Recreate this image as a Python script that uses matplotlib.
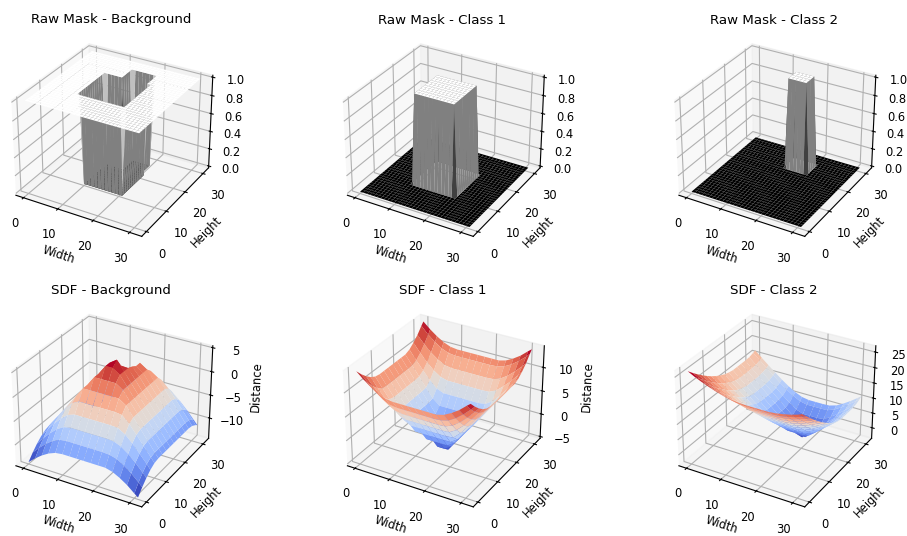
import numpy as np
import matplotlib
matplotlib.use('Agg')
import matplotlib.pyplot as plt

GRID = 32
CLASS1_X = (10, 21)
CLASS1_Y = (10, 21)
CLASS2_X = (15, 20)
CLASS2_Y = (22, 26)

KNOTS = [0, 2, 4, 6, 8, 10, 12, 14, 16, 18, 20, 22, 24, 26, 28, 30, 31]

SDF_BG = [
    [-14.1, -12.8, -11.7, -10.8, -10.2, -10, -10, -10, -10, -10, -10, -10, -10.4, -11.2, -12.2, -13.5, -14.1],
    [-12.8, -11.3, -10, -8.9, -8.2, -8, -8, -8, -8, -8, -8, -8.1, -8.5, -9.4, -10.6, -12, -12.8],
    [-11.7, -10, -8.5, -7.2, -6.3, -6, -6, -6, -6, -6, -6, -6.1, -6.7, -7.8, -9.2, -10.8, -11.7],
    [-10.8, -8.9, -7.2, -5.7, -4.5, -4, -4, -4, -4, -4, -4, -4.1, -5, -6.4, -8.1, -9.8, -10.8],
    [-10.2, -8.2, -6.3, -4.5, -2.8, -2, -2, -2, -2, -2, -2, -2.2, -3.6, -5.4, -7.3, -9.2, -10.2],
    [-10, -8, -6, -4, -2, 0, 0, 0, 0, 0, 0, -1, -3, -5, -7, -9, -10],
    [-10, -8, -6, -4, -2, 0, 2, 2, 2, 2, 1, -1, -3, -5, -7, -9, -10],
    [-10, -8, -6, -4, -2, 0, 2, 4, 4, 3, 1, -1, -3, -5, -7, -9, -10],
    [-10, -8, -6, -4, -2, 0, 2, 4, 5, 3, 1, -1, -3, -5, -7, -9, -10],
    [-10, -8, -6, -4, -2, 0, 2, 3, 3.1, 3, 1, -1, -3, -5, -7, -9, -10],
    [-10, -8, -6, -4, -2, 0, 1, 1, 1.2, 2.6, 1, -1, -3, -5, -7, -9, -10],
    [-10, -8.1, -6.1, -4.1, -2.2, -1, -1, -1, 0, 2, 1, -1, -3, -5, -7, -9, -10],
    [-10.4, -8.5, -6.7, -5, -3.6, -3, -3, -2, 0, 2, 1, -1, -3, -5, -7, -9, -10],
    [-11.2, -9.4, -7.8, -6.4, -5.4, -5, -4, -2, 0, 0, 0, -1, -3, -5, -7, -9, -10],
    [-12.2, -10.6, -9.2, -8.1, -7.3, -6.3, -4.5, -2.8, -2, -2, -2, -2.2, -3.6, -5.4, -7.3, -9.2, -10.2],
    [-13.5, -12, -10.8, -9.8, -8.9, -7.2, -5.7, -4.5, -4, -4, -4, -4.1, -5, -6.4, -8.1, -9.8, -10.8],
    [-14.1, -12.8, -11.7, -10.8, -9.4, -7.8, -6.4, -5.4, -5, -5, -5, -5.1, -5.8, -7.1, -8.6, -10.3, -11.2],
]

SDF_C1 = [
    [14.1, 12.8, 11.7, 10.8, 10.2, 10, 10, 10, 10, 10, 10, 10, 10.4, 11.2, 12.2, 13.5, 14.1],
    [12.8, 11.3, 10, 8.9, 8.2, 8, 8, 8, 8, 8, 8, 8.1, 8.5, 9.4, 10.6, 12, 12.8],
    [11.7, 10, 8.5, 7.2, 6.3, 6, 6, 6, 6, 6, 6, 6.1, 6.7, 7.8, 9.2, 10.8, 11.7],
    [10.8, 8.9, 7.2, 5.7, 4.5, 4, 4, 4, 4, 4, 4, 4.1, 5, 6.4, 8.1, 9.8, 10.8],
    [10.2, 8.2, 6.3, 4.5, 2.8, 2, 2, 2, 2, 2, 2, 2.2, 3.6, 5.4, 7.3, 9.2, 10.2],
    [10, 8, 6, 4, 2, 0, 0, 0, 0, 0, 0, 1, 3, 5, 7, 9, 10],
    [10, 8, 6, 4, 2, 0, -2, -2, -2, -2, -1, 1, 3, 5, 7, 9, 10],
    [10, 8, 6, 4, 2, 0, -2, -4, -4, -3, -1, 1, 3, 5, 7, 9, 10],
    [10, 8, 6, 4, 2, 0, -2, -4, -5, -3, -1, 1, 3, 5, 7, 9, 10],
    [10, 8, 6, 4, 2, 0, -2, -3, -3, -3, -1, 1, 3, 5, 7, 9, 10],
    [10, 8, 6, 4, 2, 0, -1, -1, -1, -1, -1, 1, 3, 5, 7, 9, 10],
    [10, 8.1, 6.1, 4.1, 2.2, 1, 1, 1, 1, 1, 1, 1.4, 3.2, 5.1, 7.1, 9.1, 10],
    [10.4, 8.5, 6.7, 5, 3.6, 3, 3, 3, 3, 3, 3, 3.2, 4.2, 5.8, 7.6, 9.5, 10.4],
    [11.2, 9.4, 7.8, 6.4, 5.4, 5, 5, 5, 5, 5, 5, 5.1, 5.8, 7.1, 8.6, 10.3, 11.2],
    [12.2, 10.6, 9.2, 8.1, 7.3, 7, 7, 7, 7, 7, 7, 7.1, 7.6, 8.6, 9.9, 11.4, 12.2],
    [13.5, 12, 10.8, 9.8, 9.2, 9, 9, 9, 9, 9, 9, 9.1, 9.5, 10.3, 11.4, 12.7, 13.5],
    [14.1, 12.8, 11.7, 10.8, 10.2, 10, 10, 10, 10, 10, 10, 10, 10.4, 11.2, 12.2, 13.5, 14.1],
]

SDF_C2 = [
    [26.4, 25.2, 24.2, 23.3, 22.5, 21.8, 21.4, 21.1, 21, 21, 21, 21, 21.2, 21.6, 22.1, 22.8, 23.3],
    [24.8, 23.6, 22.5, 21.5, 20.6, 19.9, 19.4, 19.1, 19, 19, 19, 19, 19.2, 19.6, 20.2, 21, 21.5],
    [23.3, 22, 20.8, 19.7, 18.8, 18, 17.5, 17.1, 17, 17, 17, 17, 17.3, 17.7, 18.4, 19.2, 19.7],
    [21.9, 20.5, 19.2, 18, 17, 16.2, 15.5, 15.1, 15, 15, 15, 15, 15.3, 15.8, 16.6, 17.5, 18],
    [20.6, 19.1, 17.7, 16.4, 15.3, 14.3, 13.6, 13.2, 13, 13, 13, 13, 13.3, 13.9, 14.8, 15.8, 16.4],
    [19.4, 17.8, 16.3, 14.9, 13.6, 12.5, 11.7, 11.2, 11, 11, 11, 11, 11.4, 12.1, 13, 14.2, 14.9],
    [18.4, 16.6, 15, 13.5, 12, 10.8, 9.8, 9.2, 9, 9, 9, 9.1, 9.5, 10.3, 11.4, 12.7, 13.5],
    [17.5, 15.7, 13.9, 12.2, 10.6, 9.2, 8.1, 7.3, 7, 7, 7, 7.1, 7.6, 8.6, 9.9, 11.4, 12.2],
    [16.8, 14.9, 13, 11.2, 9.4, 7.8, 6.4, 5.4, 5, 5, 5, 5.1, 5.8, 7.1, 8.6, 10.3, 11.2],
    [16.3, 14.3, 12.4, 10.4, 8.5, 6.7, 5, 3.6, 3, 3, 3, 3.2, 4.2, 5.8, 7.6, 9.5, 10.4],
    [16, 14, 12, 10, 8.1, 6.1, 4.1, 2.2, 1, 1, 1, 1.4, 3.2, 5.1, 7.1, 9.1, 10],
    [16, 14, 12, 10, 8, 6, 4, 2, 0, -1, -1, 1, 3, 5, 7, 9, 10],
    [16, 14, 12, 10, 8, 6, 4, 2, 0, -3, -1, 1, 3, 5, 7, 9, 10],
    [16, 14, 12, 10, 8, 6, 4, 2, 0, 0, 0, 1, 3, 5, 7, 9, 10],
    [16.1, 14.1, 12.2, 10.2, 8.2, 6.3, 4.5, 2.8, 2, 2, 2, 2.2, 3.6, 5.4, 7.3, 9.2, 10.2],
    [16.5, 14.6, 12.6, 10.8, 8.9, 7.2, 5.7, 4.5, 4, 4, 4, 4.1, 5, 6.4, 8.1, 9.8, 10.8],
    [16.8, 14.9, 13, 11.2, 9.4, 7.8, 6.4, 5.4, 5, 5, 5, 5.1, 5.8, 7.1, 8.6, 10.3, 11.2],
]

XY_TICKS = [0, 10, 20, 30]
W, H = 907, 536
S = 224
CX = [111, 442.5, 774]
CY = [138.5, 409]

mask1 = np.zeros((GRID, GRID))
mask1[CLASS1_Y[0]:CLASS1_Y[1] + 1, CLASS1_X[0]:CLASS1_X[1] + 1] = 1
mask2 = np.zeros((GRID, GRID))
mask2[CLASS2_Y[0]:CLASS2_Y[1] + 1, CLASS2_X[0]:CLASS2_X[1] + 1] = 1
mask0 = 1 - mask1 - mask2

fig = plt.figure(figsize=(W / 100, H / 100), dpi=100)
xg, yg = np.meshgrid(np.arange(GRID), np.arange(GRID))
kx, ky = np.meshgrid(KNOTS, KNOTS)


def panel(col, row, title):
    ax = fig.add_axes([(CX[col] - S / 2) / W, 1 - (CY[row] + S / 2) / H, S / W, S / H],
                      projection='3d')
    ax.set_title(title, fontsize=9.6, pad=2)
    ax.set_xlabel('Width', fontsize=8.3, labelpad=-1)
    ax.set_ylabel('Height', fontsize=8.3, labelpad=-1)
    ax.set_xticks(XY_TICKS)
    ax.set_yticks(XY_TICKS)
    ax.tick_params(labelsize=8.3, pad=2)
    return ax


for c, (m, t) in enumerate(zip([mask0, mask1, mask2],
                               ['Raw Mask - Background', 'Raw Mask - Class 1', 'Raw Mask - Class 2'])):
    ax = panel(c, 0, t)
    ax.plot_surface(xg, yg, m, cmap='gray')

for c, (z, t) in enumerate(zip([SDF_BG, SDF_C1, SDF_C2],
                               ['SDF - Background', 'SDF - Class 1', 'SDF - Class 2'])):
    ax = panel(c, 1, t)
    ax.plot_surface(kx, ky, np.array(z, float), cmap='coolwarm')
    if c < 2:
        ax.set_zlabel('Distance', fontsize=8.3, labelpad=-0.6)

fig.savefig('out.png', dpi=100)
